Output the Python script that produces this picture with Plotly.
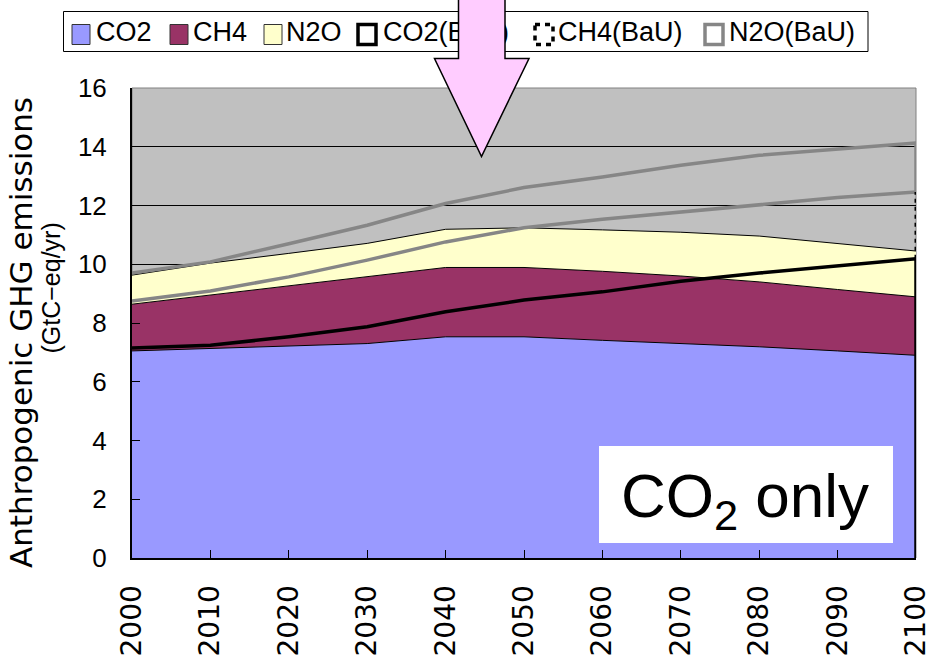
import numpy as np
import plotly.graph_objects as go

# ---------------- data ----------------
years = [2000, 2010, 2020, 2030, 2040, 2050, 2060, 2070, 2080, 2090, 2100]
co2 = [7.05, 7.13, 7.20, 7.30, 7.53, 7.53, 7.41, 7.30, 7.19, 7.05, 6.90]
ch4 = [1.59, 1.82, 2.06, 2.28, 2.36, 2.36, 2.35, 2.30, 2.21, 2.09, 1.99]
n2o = [0.99, 1.09, 1.11, 1.13, 1.30, 1.35, 1.41, 1.49, 1.56, 1.56, 1.56]
co2_bau = [7.15, 7.24, 7.53, 7.87, 8.38, 8.78, 9.06, 9.42, 9.70, 9.94, 10.19]
ch4_bau = [1.60, 1.85, 2.04, 2.27, 2.38, 2.46, 2.47, 2.36, 2.34, 2.33, 2.27]
n2o_bau = [0.95, 0.99, 1.13, 1.19, 1.31, 1.37, 1.44, 1.59, 1.67, 1.66, 1.67]
y_ticks = [0, 2, 4, 6, 8, 10, 12, 14, 16]
x_tick_labels = [str(y) for y in years]
legend_labels = ["CO2", "CH4", "N2O", "CO2(BaU)", "CH4(BaU)", "N2O(BaU)"]
y_title_1 = "Anthropogenic GHG emissions"
y_title_2 = "(GtC\u2212eq/yr)"
box_label = "CO<sub>2</sub> only"

# ---------------- layout constants (pixels) ----------------
W, H = 929, 662
PL, PR, PT, PB = 132, 916, 88, 558
BLUE, PURPLE, CREAM, GRAY_BG = "#9999FF", "#993366", "#FFFFCC", "#C0C0C0"
LINE_GRAY = "#868686"
SANS = "Liberation Sans, Arial"

cum1 = np.array(co2_bau)
cum2 = cum1 + np.array(ch4_bau)
cum3 = cum2 + np.array(n2o_bau)

fig = go.Figure()

# stacked areas
for vals, col, name in [(co2, BLUE, "CO2"), (ch4, PURPLE, "CH4"), (n2o, CREAM, "N2O")]:
    fig.add_trace(go.Scatter(x=years, y=vals, stackgroup="ghg", mode="lines",
                             fillcolor=col, line=dict(color="black", width=1),
                             name=name, showlegend=False, hoverinfo="skip"))

# BaU outlines
fig.add_trace(go.Scatter(x=years, y=cum2, mode="lines",
                         line=dict(color=LINE_GRAY, width=3.5),
                         showlegend=False, hoverinfo="skip", name="CH4(BaU)"))
fig.add_trace(go.Scatter(x=[years[-1], years[-1]], y=[cum1[-1], cum2[-1]], mode="lines",
                         line=dict(color="black", width=3, dash="4px,4px"),
                         showlegend=False, hoverinfo="skip", name="CH4(BaU) edge"))
fig.add_trace(go.Scatter(x=years + [years[-1]], y=list(cum3) + [cum2[-1]], mode="lines",
                         line=dict(color=LINE_GRAY, width=3.5),
                         showlegend=False, hoverinfo="skip", name="N2O(BaU)"))
fig.add_trace(go.Scatter(x=years + [years[-1]], y=list(cum1) + [0], mode="lines",
                         line=dict(color="black", width=3.5),
                         showlegend=False, hoverinfo="skip", name="CO2(BaU)"))

# legend text on a full-figure pixel overlay (so the arrow can sit on top of it)
text_x = [96, 193, 286, 383, 558, 729]
fig.add_trace(go.Scatter(x=text_x, y=[34] * len(legend_labels), text=legend_labels,
                         mode="text", textposition="middle right",
                         textfont=dict(family=SANS, size=27, color="black"),
                         xaxis="x2", yaxis="y2", showlegend=False, hoverinfo="skip"))

fx = lambda px: px / W
fy = lambda py: 1 - py / H

shapes = [
    dict(type="rect", xref="x domain", yref="y domain", x0=0, x1=1, y0=0, y1=1,
         fillcolor=GRAY_BG, line=dict(width=0), layer="below"),
    dict(type="rect", xref="x domain", yref="y domain", x0=0, x1=1, y0=0, y1=1,
         fillcolor="rgba(0,0,0,0)", line=dict(color="#808080", width=1), layer="below"),
    # legend frame
    dict(type="rect", xref="x2", yref="y2", x0=63.5, x1=868, y0=11.5, y1=51.5,
         fillcolor="rgba(0,0,0,0)", line=dict(color="black", width=1), layer="above"),
]
sq_x = [72, 170, 264, 358, 535, 705]
sq_style = [
    dict(fillcolor=BLUE, line=dict(color="#333333", width=1)),
    dict(fillcolor=PURPLE, line=dict(color="#333333", width=1)),
    dict(fillcolor=CREAM, line=dict(color="#333333", width=1)),
    dict(fillcolor="white", line=dict(color="black", width=3.5)),
    dict(fillcolor="white", line=dict(color="black", width=3.5, dash="5px,5px")),
    dict(fillcolor="white", line=dict(color=LINE_GRAY, width=3.5)),
]
for sx, st in zip(sq_x, sq_style):
    shapes.append(dict(type="rect", xref="x2", yref="y2", x0=sx, x1=sx + 18, y0=24.5, y1=44.5,
                       layer="above", **st))
# "CO2 only" white box
shapes.append(dict(type="rect", xref="x2", yref="y2", x0=599, x1=893, y0=446, y1=543,
                   fillcolor="white", line=dict(width=0), layer="above"))
# pink arrow
shapes.append(dict(type="path", xref="x2", yref="y2",
                   path="M 458.5,-5 L 458.5,58.5 L 434.5,58.5 L 481.5,156.5 L 529,58.5 L 505,58.5 L 505,-5 Z",
                   fillcolor="#FFCCFF", line=dict(color="black", width=1.5), layer="above"))

annotations = [
    dict(text=y_title_1, xref="paper", yref="paper", x=fx(21.5), y=fy(332.5),
         textangle=-90, showarrow=False, xanchor="center", yanchor="middle",
         font=dict(family="DejaVu Sans", size=31, color="black")),
    dict(text=y_title_2, xref="paper", yref="paper", x=fx(51), y=fy(288.5),
         textangle=-90, showarrow=False, xanchor="center", yanchor="middle",
         font=dict(family=SANS, size=25, color="black")),
    dict(text=box_label, xref="paper", yref="paper", x=fx(745), y=fy(500),
         showarrow=False, xanchor="center", yanchor="middle",
         font=dict(family=SANS, size=62, color="black")),
]

fig.update_layout(
    width=W, height=H, template="none",
    margin=dict(l=0, r=0, t=0, b=0, pad=0),
    paper_bgcolor="white", plot_bgcolor="rgba(0,0,0,0)",
    showlegend=False,
    xaxis=dict(domain=[PL / W, PR / W], range=[years[0], years[-1]],
               tickvals=years, ticktext=x_tick_labels, tickangle=-90,
               ticks="inside", ticklen=8, tickwidth=1, tickcolor="black",
               showline=True, linecolor="black", linewidth=2, showgrid=False,
               zeroline=False, ticklabelstandoff=14, ticklabeloverflow="allow",
               tickfont=dict(family="DejaVu Sans", size=28, color="black"), anchor="y"),
    yaxis=dict(domain=[1 - PB / H, 1 - PT / H], range=[0, 16], tickvals=y_ticks,
               ticks="inside", ticklen=8, tickwidth=1, tickcolor="black",
               showline=True, linecolor="black", linewidth=2,
               showgrid=True, gridcolor="black", gridwidth=1, zeroline=False,
               ticklabelstandoff=18, ticklabeloverflow="allow",
               tickfont=dict(family=SANS, size=26, color="black"), anchor="x"),
    yaxis3=dict(overlaying="y", side="right", anchor="x", range=[0, 16], tickvals=y_ticks,
                ticks="inside", ticklen=8, tickwidth=1, tickcolor="black",
                showticklabels=False, showline=False, showgrid=False, zeroline=False),
    xaxis2=dict(domain=[0, 1], range=[0, W], visible=False, anchor="y2", fixedrange=True),
    yaxis2=dict(domain=[0, 1], range=[H, 0], visible=False, anchor="x2", fixedrange=True),
    shapes=shapes, annotations=annotations,
)

fig.write_html("out.html", config={"displayModeBar": False},
               post_script="document.body.style.margin='0px';")
